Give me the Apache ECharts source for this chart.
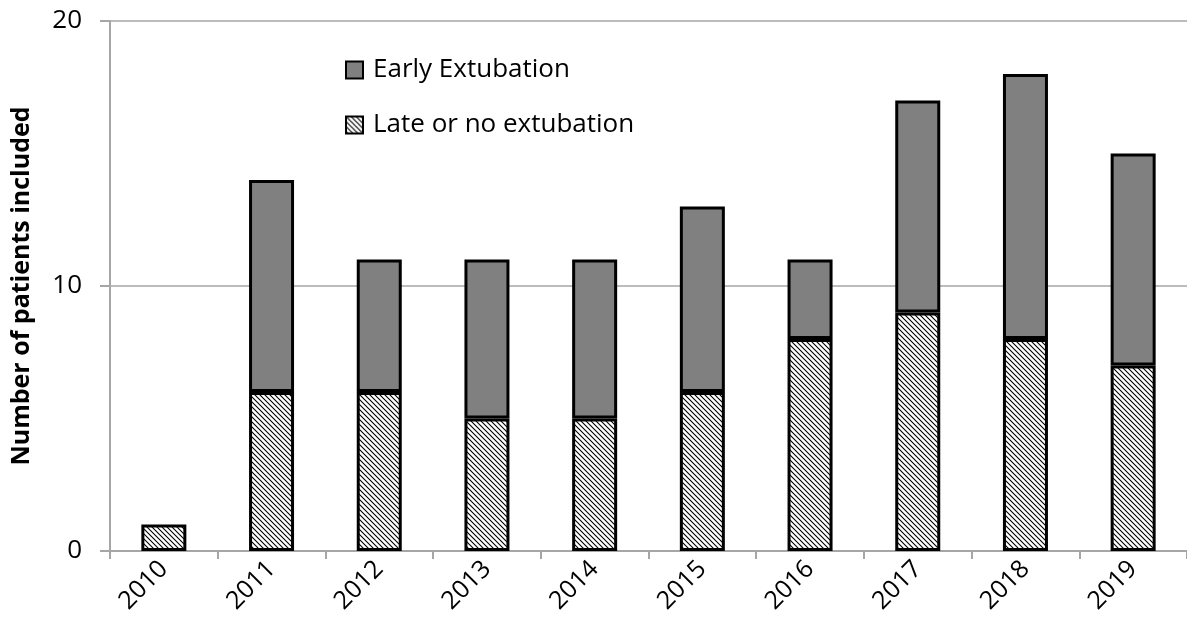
<!DOCTYPE html>
<html>
<head>
<meta charset="utf-8">
<title>Patients per year</title>
<script src="https://cdn.jsdelivr.net/npm/echarts@6/dist/echarts.min.js"></script>
<style>
  html, body { margin: 0; padding: 0; background: #fff; }
  #chart { width: 1187px; height: 637px; }
</style>
</head>
<body>
<div id="chart"></div>
<script>
// data
var years = ['2010', '2011', '2012', '2013', '2014', '2015', '2016', '2017', '2018', '2019'];
var lateOrNo = [1, 6, 6, 5, 5, 6, 8, 9, 8, 7];
var early = [null, 8, 5, 6, 6, 7, 3, 8, 10, 8];
var yTicks = [0, 10, 20];

// hatching pattern for the late bars
function hatch() {
    var c = document.createElement('canvas');
    c.width = 5;
    c.height = 5;
    var g = c.getContext('2d');
    g.fillStyle = '#fff';
    g.fillRect(0, 0, 5, 5);
    g.strokeStyle = '#000';
    g.lineWidth = 1.1;
    g.beginPath();
    g.moveTo(-1, -1); g.lineTo(6, 6);
    g.moveTo(-1, 4); g.lineTo(1, 6);
    g.moveTo(4, -1); g.lineTo(6, 1);
    g.stroke();
    return c;
}

var font = '"Open Sans", "Noto Sans", sans-serif';
var chart = echarts.init(document.getElementById('chart'));

var option = {
    animation: false,
    textStyle: { fontFamily: font },
    legend: {
        orient: 'vertical',
        left: 340,
        top: 52,
        icon: 'rect',
        itemWidth: 17,
        itemHeight: 17,
        itemGap: 29,
        textStyle: { fontSize: 26, color: '#000', fontFamily: font, padding: [0, 0, 0, 5] },
        data: ['Early Extubation', 'Late or no extubation']
    },
    grid: { left: 110, top: 21, width: 1080, height: 530 },
    xAxis: {
        type: 'category',
        data: years,
        axisLine: { lineStyle: { color: '#a6a6a6', width: 2 } },
        axisTick: { show: true, length: 8, lineStyle: { color: '#a6a6a6', width: 2 } },
        axisLabel: { rotate: 45, fontSize: 25, color: '#000', margin: 14 }
    },
    yAxis: {
        type: 'value',
        min: 0,
        max: 20,
        interval: 10,
        name: 'Number of patients included',
        nameLocation: 'middle',
        nameGap: 76,
        nameTextStyle: { fontSize: 25, fontWeight: 'bold', color: '#000' },
        axisLine: { show: true, lineStyle: { color: '#a6a6a6', width: 2 } },
        axisTick: { show: true, length: 10, lineStyle: { color: '#a6a6a6', width: 2 } },
        splitLine: { lineStyle: { color: '#a6a6a6', width: 1.5 } },
        axisLabel: {
            fontSize: 26, color: '#000', margin: 28,
            formatter: function (v) { return yTicks.indexOf(v) >= 0 ? v : ''; }
        }
    },
    series: [
        {
            name: 'Late or no extubation',
            type: 'bar',
            stack: 'all',
            barWidth: 45,
            data: lateOrNo,
            itemStyle: {
                color: { image: hatch(), repeat: 'repeat' },
                borderColor: '#000',
                borderWidth: 3
            }
        },
        {
            name: 'Early Extubation',
            type: 'bar',
            stack: 'all',
            barWidth: 45,
            data: early,
            itemStyle: {
                color: '#808080',
                borderColor: '#000',
                borderWidth: 3
            }
        }
    ]
};

chart.setOption(option);
</script>
</body>
</html>
